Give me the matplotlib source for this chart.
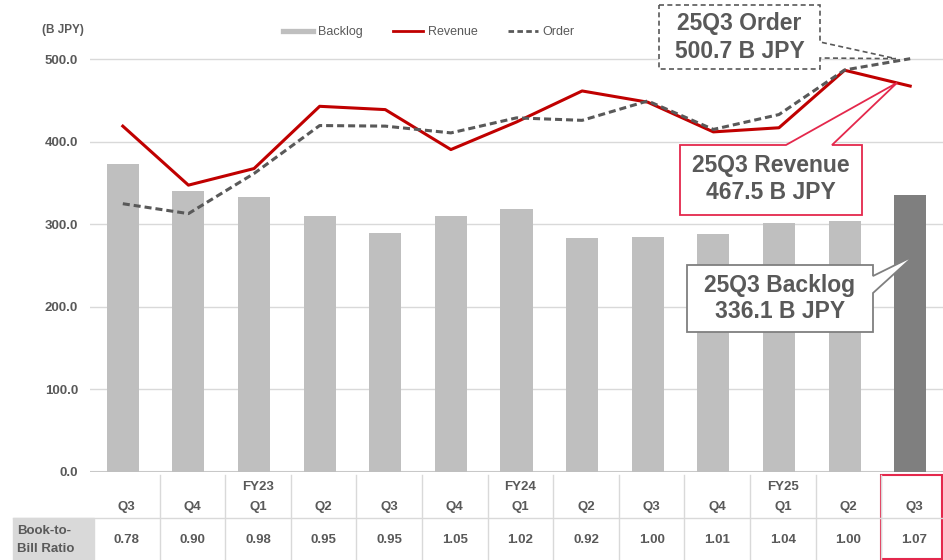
import numpy as np
import matplotlib.pyplot as plt
from matplotlib.lines import Line2D
from matplotlib.patches import Polygon, Rectangle

plt.rcParams['font.family'] = ['Liberation Sans', 'DejaVu Sans']

# data (B JPY)
fiscal_years = ['', '', 'FY23', '', '', '', 'FY24', '', '', '', 'FY25', '', '']
quarters = ['Q3', 'Q4', 'Q1', 'Q2', 'Q3', 'Q4', 'Q1', 'Q2', 'Q3', 'Q4', 'Q1', 'Q2', 'Q3']
backlog = [373.7, 340.0, 333.0, 310.7, 290.0, 310.7, 318.4, 283.0, 285.0, 288.0, 302.0, 303.5, 336.1]
revenue = [419.0, 347.5, 367.6, 443.0, 439.0, 390.6, 424.0, 461.6, 448.0, 412.0, 417.0, 486.7, 467.5]
order = [325.0, 313.0, 361.6, 419.7, 419.0, 410.8, 429.0, 426.0, 449.5, 415.0, 433.0, 487.0, 500.7]
book_to_bill = [0.78, 0.90, 0.98, 0.95, 0.95, 1.05, 1.02, 0.92, 1.00, 1.01, 1.04, 1.00, 1.07]

GRAY = '#595959'
GRID = '#d9d9d9'
RED = '#c00000'
PINK = '#e4284c'
W, H = 943, 560

fig = plt.figure(figsize=(W / 100, H / 100), dpi=100)
ax = fig.add_axes([90 / W, 88 / H, 853 / W, 421 / H])

x = np.arange(len(quarters))
bar_colors = ['#bfbfbf'] * (len(x) - 1) + ['#7f7f7f']
ax.bar(x, backlog, width=0.49, color=bar_colors, zorder=2)
ax.plot(x, revenue, color=RED, lw=2.2, zorder=3)
ax.plot(x, order, color=GRAY, lw=2.2, ls=(0, (2.3, 1.3)), zorder=4)

ax.set_xlim(-0.5, len(x) - 0.5)
ax.set_ylim(0, 510)
yt = np.arange(0, 501, 100)
ax.set_yticks(yt)
ax.set_yticklabels([f'{v:.1f}' for v in yt], fontweight='bold', color=GRAY, fontsize=9.5)
ax.tick_params(axis='y', length=0, pad=8.5)
ax.tick_params(axis='x', bottom=False, labelbottom=False)
ax.grid(axis='y', color=GRID, lw=1)
ax.set_axisbelow(True)
ax.axhline(0, color='#c8c8c8', lw=1.5, zorder=1)
for s in ax.spines.values():
    s.set_visible(False)

fig.text(84 / W, 1 - 30 / H, '(B JPY)', ha='right', va='center', fontsize=8.5,
         fontweight='bold', color=GRAY)

# legend
handles = [Line2D([], [], color='#bfbfbf', lw=3.8),
           Line2D([], [], color=RED, lw=2),
           Line2D([], [], color=GRAY, lw=2, ls=(0, (2, 1.2)))]
fig.legend(handles, ['Backlog', 'Revenue', 'Order'], loc='center left',
           bbox_to_anchor=(283 / W, 1 - 32 / H), ncol=3, frameon=False, fontsize=9,
           handlelength=2.4, handletextpad=0.4, columnspacing=2.4, borderpad=0,
           borderaxespad=0, labelcolor=GRAY)

# overlay in pixel coords (y down) for table and callouts
ov = fig.add_axes([0, 0, 1, 1], zorder=5)
ov.set_xlim(0, W)
ov.set_ylim(H, 0)
ov.axis('off')
ov.patch.set_alpha(0)


def to_px(xd, yd=0.0):
    dx, dy = ax.transData.transform((xd, yd))
    return dx, H - dy


# table under the chart
off = 0.06
for i in range(1, len(x)):
    xe = to_px(i - 0.5 + off)[0]
    ov.plot([xe, xe], [475, H], color=GRID, lw=1)
ov.plot([13, W], [518, 518], color=GRID, lw=1)
ov.add_patch(Rectangle((13, 518), 81, 42, color='#d9d9d9', zorder=0))
ov.text(17, 531, 'Book-to-', ha='left', va='center', fontsize=9.5, fontweight='bold', color=GRAY)
ov.text(17, 549, 'Bill Ratio', ha='left', va='center', fontsize=9.5, fontweight='bold', color=GRAY)
for i in range(len(x)):
    cx = to_px(i + off)[0]
    if fiscal_years[i]:
        ov.text(cx, 487, fiscal_years[i], ha='center', va='center', fontsize=9.5,
                fontweight='bold', color=GRAY)
    ov.text(cx, 507, quarters[i], ha='center', va='center', fontsize=9.5,
            fontweight='bold', color=GRAY)
    ov.text(cx, 540, f'{book_to_bill[i]:.2f}', ha='center', va='center', fontsize=9.5,
            fontweight='bold', color=GRAY)
x0 = to_px(len(x) - 1.5 + off)[0]
ov.add_patch(Rectangle((x0, 475), W - 1.5 - x0, 84, fill=False, ec=PINK, lw=1.5))

# callouts
tx, ty = to_px(len(x) - 1.22, order[-1])
ov.add_patch(Polygon([(659, 5), (820, 5), (820, 42), (tx, ty), (820, 58), (820, 69), (659, 69)],
                     closed=True, fc='white', ec=GRAY, lw=1.2, ls=(0, (3, 2))))
ov.text(739.5, 37.5, f'25Q3 Order\n{order[-1]:.1f} B JPY', ha='center', va='center',
        fontsize=16.5, fontweight='bold', color=GRAY, linespacing=1.25)

tx, ty = to_px(len(x) - 1.2, revenue[-1] + 4)
ov.add_patch(Polygon([(680, 145), (786, 145), (tx, ty), (832, 145), (862, 145), (862, 215), (680, 215)],
                     closed=True, fc='white', ec=PINK, lw=1.3))
ov.text(771, 179, f'25Q3 Revenue\n{revenue[-1]:.1f} B JPY', ha='center', va='center',
        fontsize=16.5, fontweight='bold', color=GRAY, linespacing=1.2)

tx, ty = to_px(len(x) - 0.94, 262)
ov.add_patch(Polygon([(687, 265), (873, 265), (873, 276), (tx, ty), (873, 293), (873, 332), (687, 332)],
                     closed=True, fc='white', ec='#7f7f7f', lw=1.3))
ov.text(780, 298.5, f'25Q3 Backlog\n{backlog[-1]:.1f} B JPY', ha='center', va='center',
        fontsize=16.5, fontweight='bold', color=GRAY, linespacing=1.2)

fig.savefig('out.png', dpi=100)
